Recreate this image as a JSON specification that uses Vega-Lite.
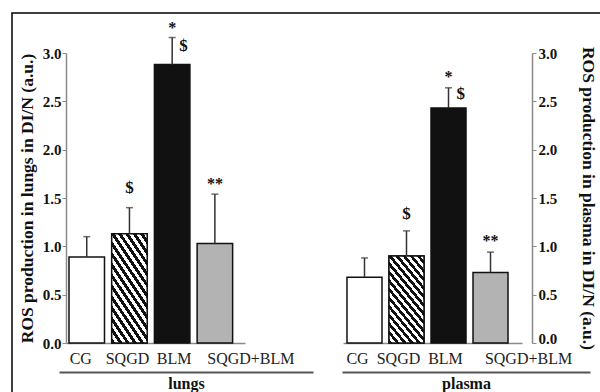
{
  "$schema": "https://vega.github.io/schema/vega-lite/v6.json",
  "width": 590,
  "height": 381,
  "autosize": {"type": "none"},
  "padding": {"left": 12, "top": 13, "right": -2, "bottom": -2},
  "background": "white",
  "config": {
    "view": {"stroke": "#000000", "strokeWidth": 1.5},
    "font": "Liberation Serif",
    "axis": {"grid": false, "labelFont": "Liberation Serif", "titleFont": "Liberation Serif"}
  },
  "datasets": {
    "ros": [
      {"organ": "lungs", "group": "CG", "mean": 0.89, "upper": 1.10},
      {"organ": "lungs", "group": "SQGD", "mean": 1.13, "upper": 1.40},
      {"organ": "lungs", "group": "BLM", "mean": 2.88, "upper": 3.16},
      {"organ": "lungs", "group": "SQGD+BLM", "mean": 1.03, "upper": 1.54},
      {"organ": "plasma", "group": "CG", "mean": 0.68, "upper": 0.88},
      {"organ": "plasma", "group": "SQGD", "mean": 0.90, "upper": 1.16},
      {"organ": "plasma", "group": "BLM", "mean": 2.43, "upper": 2.64},
      {"organ": "plasma", "group": "SQGD+BLM", "mean": 0.73, "upper": 0.94}
    ],
    "notes": [
      {"organ": "lungs", "group": "SQGD", "note": "$", "upper": 1.40},
      {"organ": "lungs", "group": "BLM", "note": "*", "upper": 3.16},
      {"organ": "lungs", "group": "BLM", "note": "$", "upper": 3.16},
      {"organ": "lungs", "group": "SQGD+BLM", "note": "**", "upper": 1.54},
      {"organ": "plasma", "group": "SQGD", "note": "$", "upper": 1.16},
      {"organ": "plasma", "group": "BLM", "note": "*", "upper": 2.64},
      {"organ": "plasma", "group": "BLM", "note": "$", "upper": 2.64},
      {"organ": "plasma", "group": "SQGD+BLM", "note": "**", "upper": 0.94}
    ],
    "organs": [{"organ": "lungs"}, {"organ": "plasma"}]
  },
  "layer": [
    {
      "layer": [
        {
          "data": {"name": "ros"},
          "transform": [{"filter": "datum.organ === 'lungs'"}],
          "encoding": {
            "x": {
              "field": "group", "type": "nominal",
              "scale": {"domain": ["CG", "SQGD", "BLM", "SQGD+BLM"], "range": [54, 233], "paddingInner": 0.169, "paddingOuter": 0.18, "align": 0.195},
              "axis": {
                "orient": "bottom", "offset": -51, "domainColor": "#8a8a8a", "domainWidth": 1.5, "ticks": false,
                "labelAngle": 0, "labelFontSize": 16, "labelColor": "#222222", "labelPadding": 7,
                "labelOffset": {"condition": [{"test": "datum.value === 'CG'", "value": -6}, {"test": "datum.value === 'SQGD'", "value": -2}, {"test": "datum.value === 'BLM'", "value": 2}, {"test": "datum.value === 'SQGD+BLM'", "value": 36}], "value": 0},
                "title": null
              }
            },
            "y": {
              "field": "mean", "type": "quantitative",
              "scale": {"domain": [0, 3], "range": [330, 40], "nice": false, "zero": false},
              "axis": {
                "orient": "left", "offset": -54, "values": [0, 0.5, 1, 1.5, 2, 2.5, 3], "format": ".1f",
                "domainColor": "#8a8a8a", "domainWidth": 1.5, "tickColor": "#8a8a8a", "tickSize": 4,
                "labelFontSize": 15, "labelFontWeight": "bold", "labelColor": "#111111", "labelPadding": 1,
                "title": "ROS production in lungs in DI/N (a.u.)", "titleFontSize": 17.5, "titleFontWeight": "bold", "titleColor": "#111111", "titlePadding": 6
              }
            }
          },
          "layer": [
            {
              "mark": {"type": "bar", "stroke": "#111111", "strokeWidth": 1.5},
              "encoding": {"color": {"field": "group", "type": "nominal", "scale": {"domain": ["CG", "SQGD", "BLM", "SQGD+BLM"], "range": ["#ffffff", "#ffffff", "#111111", "#b3b3b3"]}, "legend": null}}
            },
            {
              "transform": [{"filter": "datum.group === 'SQGD'"}],
              "mark": {"type": "bar", "stroke": "#111111", "strokeWidth": 1.5,
                "fill": {"gradient": "linear", "x1": 0, "y1": 1, "x2": 0.58, "y2": -0.2, "stops": [
                  {"offset": 0, "color": "#111111"}, {"offset": 0.0333, "color": "#111111"}, {"offset": 0.0333, "color": "#ffffff"}, {"offset": 0.0667, "color": "#ffffff"},
                  {"offset": 0.0667, "color": "#111111"}, {"offset": 0.1, "color": "#111111"}, {"offset": 0.1, "color": "#ffffff"}, {"offset": 0.1333, "color": "#ffffff"},
                  {"offset": 0.1333, "color": "#111111"}, {"offset": 0.1667, "color": "#111111"}, {"offset": 0.1667, "color": "#ffffff"}, {"offset": 0.2, "color": "#ffffff"},
                  {"offset": 0.2, "color": "#111111"}, {"offset": 0.2333, "color": "#111111"}, {"offset": 0.2333, "color": "#ffffff"}, {"offset": 0.2667, "color": "#ffffff"},
                  {"offset": 0.2667, "color": "#111111"}, {"offset": 0.3, "color": "#111111"}, {"offset": 0.3, "color": "#ffffff"}, {"offset": 0.3333, "color": "#ffffff"},
                  {"offset": 0.3333, "color": "#111111"}, {"offset": 0.3667, "color": "#111111"}, {"offset": 0.3667, "color": "#ffffff"}, {"offset": 0.4, "color": "#ffffff"},
                  {"offset": 0.4, "color": "#111111"}, {"offset": 0.4333, "color": "#111111"}, {"offset": 0.4333, "color": "#ffffff"}, {"offset": 0.4667, "color": "#ffffff"},
                  {"offset": 0.4667, "color": "#111111"}, {"offset": 0.5, "color": "#111111"}, {"offset": 0.5, "color": "#ffffff"}, {"offset": 0.5333, "color": "#ffffff"},
                  {"offset": 0.5333, "color": "#111111"}, {"offset": 0.5667, "color": "#111111"}, {"offset": 0.5667, "color": "#ffffff"}, {"offset": 0.6, "color": "#ffffff"},
                  {"offset": 0.6, "color": "#111111"}, {"offset": 0.6333, "color": "#111111"}, {"offset": 0.6333, "color": "#ffffff"}, {"offset": 0.6667, "color": "#ffffff"},
                  {"offset": 0.6667, "color": "#111111"}, {"offset": 0.7, "color": "#111111"}, {"offset": 0.7, "color": "#ffffff"}, {"offset": 0.7333, "color": "#ffffff"},
                  {"offset": 0.7333, "color": "#111111"}, {"offset": 0.7667, "color": "#111111"}, {"offset": 0.7667, "color": "#ffffff"}, {"offset": 0.8, "color": "#ffffff"},
                  {"offset": 0.8, "color": "#111111"}, {"offset": 0.8333, "color": "#111111"}, {"offset": 0.8333, "color": "#ffffff"}, {"offset": 0.8667, "color": "#ffffff"},
                  {"offset": 0.8667, "color": "#111111"}, {"offset": 0.9, "color": "#111111"}, {"offset": 0.9, "color": "#ffffff"}, {"offset": 0.9333, "color": "#ffffff"},
                  {"offset": 0.9333, "color": "#111111"}, {"offset": 0.9667, "color": "#111111"}, {"offset": 0.9667, "color": "#ffffff"}, {"offset": 1, "color": "#ffffff"}
                ]}
              }
            },
            {
              "mark": {"type": "rule", "color": "#333333", "strokeWidth": 1.5},
              "encoding": {"y": {"field": "upper", "type": "quantitative"}, "y2": {"field": "mean"}}
            },
            {
              "mark": {"type": "tick", "color": "#333333", "thickness": 1.5, "size": 7},
              "encoding": {"y": {"field": "upper", "type": "quantitative"}}
            },
            {
              "data": {"name": "notes"},
              "transform": [{"filter": "datum.organ === 'lungs' && datum.note === '$' && datum.group !== 'BLM'"}],
              "mark": {"type": "text", "font": "Liberation Serif", "fontSize": 17, "fontWeight": "bold", "baseline": "alphabetic", "dy": -15, "color": "#111111"},
              "encoding": {"y": {"field": "upper", "type": "quantitative"}, "text": {"field": "note"}}
            },
            {
              "data": {"name": "notes"},
              "transform": [{"filter": "datum.organ === 'lungs' && datum.note !== '$'"}],
              "mark": {"type": "text", "font": "Liberation Serif", "fontSize": 16, "fontWeight": "bold", "baseline": "alphabetic", "dy": -5, "color": "#111111"},
              "encoding": {"y": {"field": "upper", "type": "quantitative"}, "text": {"field": "note"}}
            },
            {
              "data": {"name": "notes"},
              "transform": [{"filter": "datum.organ === 'lungs' && datum.note === '$' && datum.group === 'BLM'"}],
              "mark": {"type": "text", "font": "Liberation Serif", "fontSize": 17, "fontWeight": "bold", "baseline": "middle", "align": "left", "dx": 7, "dy": 8, "color": "#111111"},
              "encoding": {"y": {"field": "upper", "type": "quantitative"}, "text": {"field": "note"}}
            }
          ]
        },
        {
          "data": {"name": "organs"},
          "transform": [{"filter": "datum.organ === 'lungs'"}],
          "mark": {"type": "point", "opacity": 0},
          "encoding": {
            "x": {
              "field": "organ", "type": "nominal",
              "scale": {"type": "point", "domain": ["lungs"], "range": [47, 301]},
              "axis": {"orient": "bottom", "offset": -22, "domainColor": "#555555", "domainWidth": 2, "ticks": false, "labelAngle": 0, "labelFontSize": 16, "labelFontWeight": "bold", "labelColor": "#111111", "labelPadding": 3, "title": null}
            }
          }
        }
      ],
      "resolve": {"scale": {"x": "independent"}, "axis": {"x": "independent"}}
    },
    {
      "layer": [
        {
          "data": {"name": "ros"},
          "transform": [{"filter": "datum.organ === 'plasma'"}],
          "encoding": {
            "x": {
              "field": "group", "type": "nominal",
              "scale": {"domain": ["CG", "SQGD", "BLM", "SQGD+BLM"], "range": [331, 510], "paddingInner": 0.1667, "paddingOuter": 0.214, "align": 0.222},
              "axis": {
                "orient": "bottom", "offset": -51, "domainColor": "#8a8a8a", "domainWidth": 1.5, "ticks": false,
                "labelAngle": 0, "labelFontSize": 16, "labelColor": "#222222", "labelPadding": 7,
                "labelOffset": {"condition": [{"test": "datum.value === 'CG'", "value": -7}, {"test": "datum.value === 'SQGD'", "value": -8}, {"test": "datum.value === 'BLM'", "value": -3}, {"test": "datum.value === 'SQGD+BLM'", "value": 38}], "value": 0},
                "title": null
              }
            },
            "y": {
              "field": "mean", "type": "quantitative",
              "scale": {"domain": [0, 3], "range": [330, 40], "nice": false, "zero": false},
              "axis": {
                "orient": "right", "offset": -70, "values": [0, 0.5, 1, 1.5, 2, 2.5, 3], "format": ".1f",
                "domainColor": "#8a8a8a", "domainWidth": 1.5, "tickColor": "#8a8a8a", "tickSize": 4,
                "labelFontSize": 15, "labelFontWeight": "bold", "labelColor": "#111111", "labelPadding": 2, "labelBaseline": {"condition": {"test": "datum.value === 0", "value": "alphabetic"}, "value": "middle"},
                "title": "ROS production in plasma in DI/N (a.u.)", "titleFontSize": 17.5, "titleFontWeight": "bold", "titleColor": "#111111", "titlePadding": 22
              }
            }
          },
          "layer": [
            {
              "mark": {"type": "bar", "stroke": "#111111", "strokeWidth": 1.5},
              "encoding": {"color": {"field": "group", "type": "nominal", "scale": {"domain": ["CG", "SQGD", "BLM", "SQGD+BLM"], "range": ["#ffffff", "#ffffff", "#111111", "#b3b3b3"]}, "legend": null}}
            },
            {
              "transform": [{"filter": "datum.group === 'SQGD'"}],
              "mark": {"type": "bar", "stroke": "#111111", "strokeWidth": 1.5,
                "fill": {"gradient": "linear", "x1": 0, "y1": 1, "x2": 0.58, "y2": -0.2, "stops": [
                  {"offset": 0, "color": "#111111"}, {"offset": 0.0333, "color": "#111111"}, {"offset": 0.0333, "color": "#ffffff"}, {"offset": 0.0667, "color": "#ffffff"},
                  {"offset": 0.0667, "color": "#111111"}, {"offset": 0.1, "color": "#111111"}, {"offset": 0.1, "color": "#ffffff"}, {"offset": 0.1333, "color": "#ffffff"},
                  {"offset": 0.1333, "color": "#111111"}, {"offset": 0.1667, "color": "#111111"}, {"offset": 0.1667, "color": "#ffffff"}, {"offset": 0.2, "color": "#ffffff"},
                  {"offset": 0.2, "color": "#111111"}, {"offset": 0.2333, "color": "#111111"}, {"offset": 0.2333, "color": "#ffffff"}, {"offset": 0.2667, "color": "#ffffff"},
                  {"offset": 0.2667, "color": "#111111"}, {"offset": 0.3, "color": "#111111"}, {"offset": 0.3, "color": "#ffffff"}, {"offset": 0.3333, "color": "#ffffff"},
                  {"offset": 0.3333, "color": "#111111"}, {"offset": 0.3667, "color": "#111111"}, {"offset": 0.3667, "color": "#ffffff"}, {"offset": 0.4, "color": "#ffffff"},
                  {"offset": 0.4, "color": "#111111"}, {"offset": 0.4333, "color": "#111111"}, {"offset": 0.4333, "color": "#ffffff"}, {"offset": 0.4667, "color": "#ffffff"},
                  {"offset": 0.4667, "color": "#111111"}, {"offset": 0.5, "color": "#111111"}, {"offset": 0.5, "color": "#ffffff"}, {"offset": 0.5333, "color": "#ffffff"},
                  {"offset": 0.5333, "color": "#111111"}, {"offset": 0.5667, "color": "#111111"}, {"offset": 0.5667, "color": "#ffffff"}, {"offset": 0.6, "color": "#ffffff"},
                  {"offset": 0.6, "color": "#111111"}, {"offset": 0.6333, "color": "#111111"}, {"offset": 0.6333, "color": "#ffffff"}, {"offset": 0.6667, "color": "#ffffff"},
                  {"offset": 0.6667, "color": "#111111"}, {"offset": 0.7, "color": "#111111"}, {"offset": 0.7, "color": "#ffffff"}, {"offset": 0.7333, "color": "#ffffff"},
                  {"offset": 0.7333, "color": "#111111"}, {"offset": 0.7667, "color": "#111111"}, {"offset": 0.7667, "color": "#ffffff"}, {"offset": 0.8, "color": "#ffffff"},
                  {"offset": 0.8, "color": "#111111"}, {"offset": 0.8333, "color": "#111111"}, {"offset": 0.8333, "color": "#ffffff"}, {"offset": 0.8667, "color": "#ffffff"},
                  {"offset": 0.8667, "color": "#111111"}, {"offset": 0.9, "color": "#111111"}, {"offset": 0.9, "color": "#ffffff"}, {"offset": 0.9333, "color": "#ffffff"},
                  {"offset": 0.9333, "color": "#111111"}, {"offset": 0.9667, "color": "#111111"}, {"offset": 0.9667, "color": "#ffffff"}, {"offset": 1, "color": "#ffffff"}
                ]}
              }
            },
            {
              "mark": {"type": "rule", "color": "#333333", "strokeWidth": 1.5},
              "encoding": {"y": {"field": "upper", "type": "quantitative"}, "y2": {"field": "mean"}}
            },
            {
              "mark": {"type": "tick", "color": "#333333", "thickness": 1.5, "size": 7},
              "encoding": {"y": {"field": "upper", "type": "quantitative"}}
            },
            {
              "data": {"name": "notes"},
              "transform": [{"filter": "datum.organ === 'plasma' && datum.note === '$' && datum.group !== 'BLM'"}],
              "mark": {"type": "text", "font": "Liberation Serif", "fontSize": 17, "fontWeight": "bold", "baseline": "alphabetic", "dy": -12, "color": "#111111"},
              "encoding": {"y": {"field": "upper", "type": "quantitative"}, "text": {"field": "note"}}
            },
            {
              "data": {"name": "notes"},
              "transform": [{"filter": "datum.organ === 'plasma' && datum.note !== '$'"}],
              "mark": {"type": "text", "font": "Liberation Serif", "fontSize": 16, "fontWeight": "bold", "baseline": "alphabetic", "dy": -6, "color": "#111111"},
              "encoding": {"y": {"field": "upper", "type": "quantitative"}, "text": {"field": "note"}}
            },
            {
              "data": {"name": "notes"},
              "transform": [{"filter": "datum.organ === 'plasma' && datum.note === '$' && datum.group === 'BLM'"}],
              "mark": {"type": "text", "font": "Liberation Serif", "fontSize": 17, "fontWeight": "bold", "baseline": "middle", "align": "left", "dx": 8, "dy": 6, "color": "#111111"},
              "encoding": {"y": {"field": "upper", "type": "quantitative"}, "text": {"field": "note"}}
            }
          ]
        },
        {
          "data": {"name": "organs"},
          "transform": [{"filter": "datum.organ === 'plasma'"}],
          "mark": {"type": "point", "opacity": 0},
          "encoding": {
            "x": {
              "field": "organ", "type": "nominal",
              "scale": {"type": "point", "domain": ["plasma"], "range": [330, 578]},
              "axis": {"orient": "bottom", "offset": -22, "domainColor": "#555555", "domainWidth": 2, "ticks": false, "labelAngle": 0, "labelFontSize": 16, "labelFontWeight": "bold", "labelColor": "#111111", "labelPadding": 3, "title": null}
            }
          }
        }
      ],
      "resolve": {"scale": {"x": "independent"}, "axis": {"x": "independent"}}
    }
  ],
  "resolve": {"scale": {"x": "independent", "y": "independent"}, "axis": {"x": "independent", "y": "independent"}}
}
